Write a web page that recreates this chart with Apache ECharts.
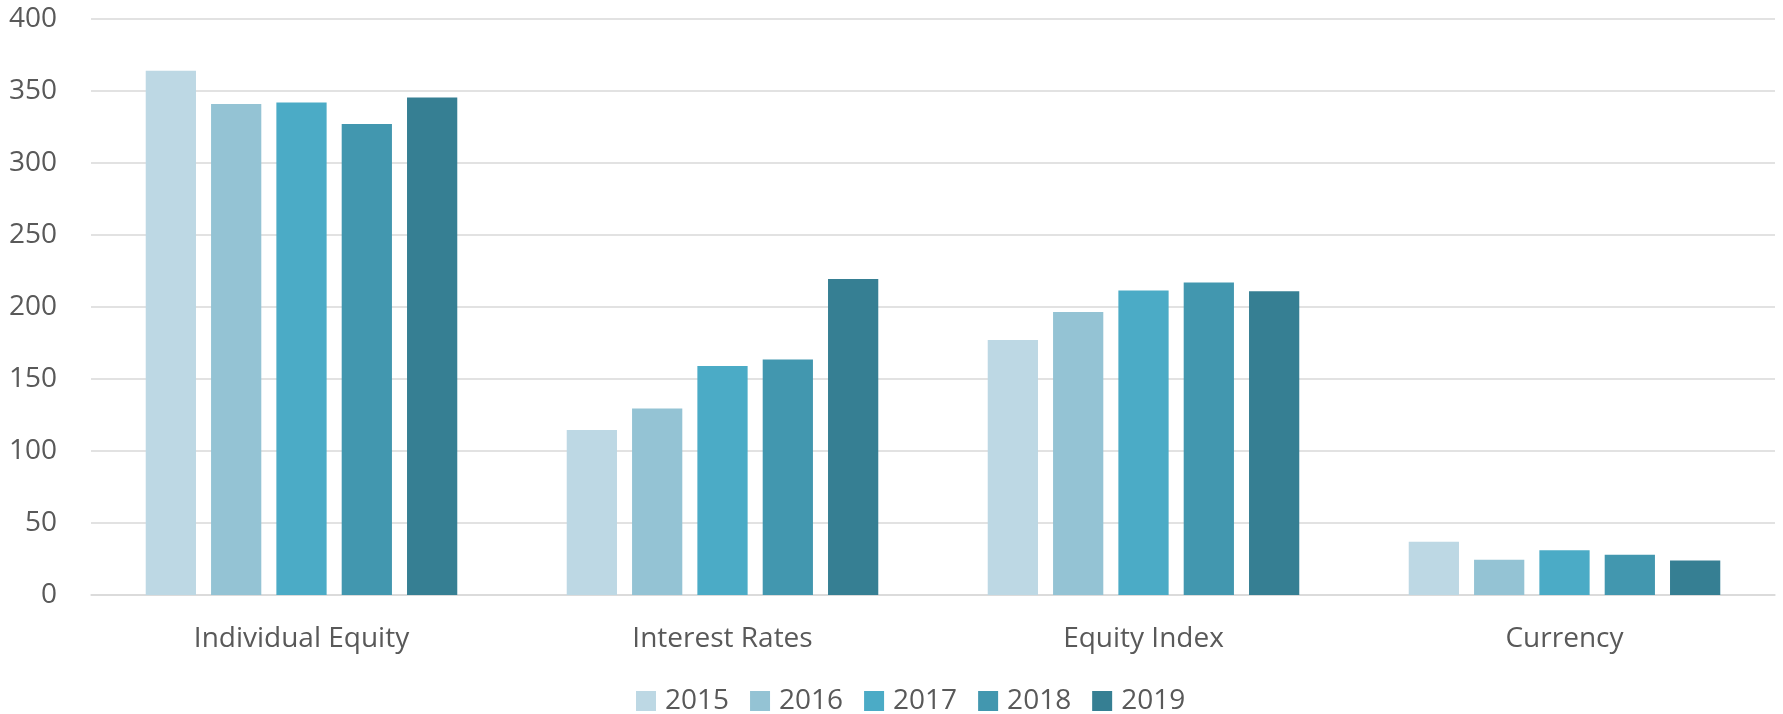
<!DOCTYPE html>
<html>
<head>
<meta charset="utf-8">
<style>
  html, body { margin: 0; padding: 0; background: #fff; }
  #chart { width: 1783px; height: 714px; }
</style>
<script src="https://cdn.jsdelivr.net/npm/echarts@6/dist/echarts.min.js"></script>
</head>
<body>
<div id="chart"></div>
<script>
const categories = ['Individual Equity', 'Interest Rates', 'Equity Index', 'Currency']
const years = ['2015', '2016', '2017', '2018', '2019']
const values2015 = [364, 114.5, 177, 37]
const values2016 = [341, 129.5, 196.5, 24.5]
const values2017 = [342, 159, 211.5, 31]
const values2018 = [327, 163.5, 217, 28]
const values2019 = [345.5, 219.5, 211, 24]
const yearColors = ['#bdd8e4', '#94c3d4', '#4babc6', '#4297af', '#367f93']

const seriesValues = [values2015, values2016, values2017, values2018, values2019]
const font = '"Open Sans", "Noto Sans", sans-serif'

const chart = echarts.init(document.getElementById('chart'))

chart.setOption({
  animation: false,
  textStyle: { fontFamily: font },
  grid: { left: 91, right: 8, top: 19, bottom: 119 },
  legend: {
    bottom: -6,
    left: 631,
    itemWidth: 20,
    itemHeight: 20,
    itemGap: 21,
    icon: 'rect',
    textStyle: { color: '#595959', fontSize: 28, fontFamily: font, padding: [0, 0, 0, 4] }
  },
  xAxis: {
    type: 'category',
    data: categories,
    axisTick: { show: false },
    axisLine: { lineStyle: { color: '#d9d9d9', width: 1.5 } },
    axisLabel: { color: '#595959', fontSize: 28, margin: 30, fontFamily: font }
  },
  yAxis: {
    type: 'value',
    min: 0,
    max: 400,
    interval: 50,
    axisLabel: { color: '#595959', fontSize: 28, margin: 34, fontFamily: font },
    splitLine: { lineStyle: { color: '#d9d9d9', width: 1.5 } }
  },
  series: years.map((year, i) => ({
    name: year,
    type: 'bar',
    data: seriesValues[i],
    barGap: '30%',
    barCategoryGap: '26%',
    itemStyle: { color: yearColors[i] }
  }))
})
</script>
</body>
</html>
